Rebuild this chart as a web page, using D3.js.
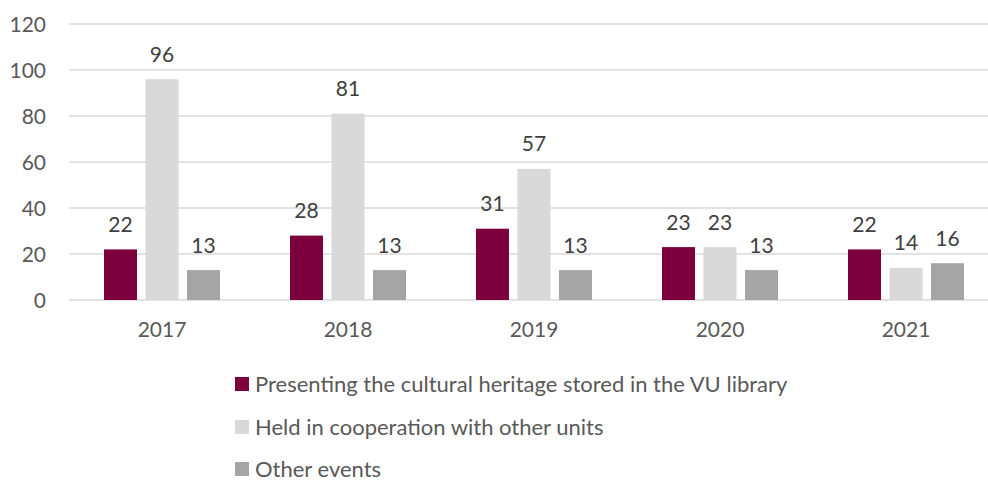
<!DOCTYPE html>
<html><head><meta charset="utf-8">
<script src="https://cdn.jsdelivr.net/npm/d3@7"></script>
<style>body{margin:0;background:#fff;} svg{display:block;font-family:Lato,"Open Sans",sans-serif;}</style>
</head><body>
<svg id="chart" width="988" height="482"></svg>
<script>
const categories = ["2017","2018","2019","2020","2021"];
const seriesNames = ["Presenting the cultural heritage stored in the VU library","Held in cooperation with other units","Other events"];
const heritage = [22,28,31,23,22];
const cooperation = [96,81,57,23,14];
const other = [13,13,13,13,16];
const yTicks = [0,20,40,60,80,100,120];
const colors = ["#7B003C","#D9D9D9","#A5A5A5"];

const series = [heritage, cooperation, other];
const svg = d3.select("#chart");
const x0 = d3.scaleBand().domain(categories).range([69,999]).paddingInner(0).paddingOuter(0);
const y = d3.scaleLinear().domain([0,120]).range([300,24]);
const barW = 33, gap = 8.5;
const groupW = 3*barW + 2*gap;

// gridlines
svg.append("g").selectAll("line").data(yTicks).join("line")
  .attr("x1",69).attr("x2",988).attr("y1",d=>y(d)).attr("y2",d=>y(d))
  .attr("stroke","#D9D9D9").attr("stroke-width",1.5);

// y tick labels
svg.append("g").selectAll("text").data(yTicks).join("text")
  .attr("x",46).attr("y",d=>y(d)).attr("dy","0.36em").attr("text-anchor","end")
  .attr("font-size",21).attr("fill","#595959").text(d=>d);

// bars
const gGroups = svg.append("g").selectAll("g").data(categories).join("g");
series.forEach((vals,si)=>{
  gGroups.append("rect")
    .attr("x",(d,i)=>x0(d)+x0.bandwidth()/2-groupW/2+si*(barW+gap))
    .attr("width",barW)
    .attr("y",(d,i)=>y(vals[i]))
    .attr("height",(d,i)=>y(0)-y(vals[i]))
    .attr("fill",colors[si]);
  gGroups.append("text")
    .attr("x",(d,i)=>x0(d)+x0.bandwidth()/2-groupW/2+si*(barW+gap)+barW/2)
    .attr("y",(d,i)=>y(vals[i])-25)
    .attr("dy","0.36em").attr("text-anchor","middle")
    .attr("font-size",21).attr("fill","#404040")
    .text((d,i)=>vals[i]);
});

// x labels
svg.append("g").selectAll("text").data(categories).join("text")
  .attr("x",d=>x0(d)+x0.bandwidth()/2).attr("y",329).attr("dy","0.36em")
  .attr("text-anchor","middle").attr("font-size",21).attr("fill","#595959").text(d=>d);

// legend
const legY = [384,427,469];
const leg = svg.append("g").selectAll("g").data(seriesNames).join("g")
  .attr("transform",(d,i)=>`translate(235,${legY[i]})`);
leg.append("rect").attr("x",0).attr("y",-7).attr("width",14).attr("height",14).attr("fill",(d,i)=>colors[i]);
leg.append("text").attr("x",20).attr("y",0).attr("dy","0.36em").attr("font-size",22).attr("fill","#595959").text(d=>d);
</script>
</body></html>
